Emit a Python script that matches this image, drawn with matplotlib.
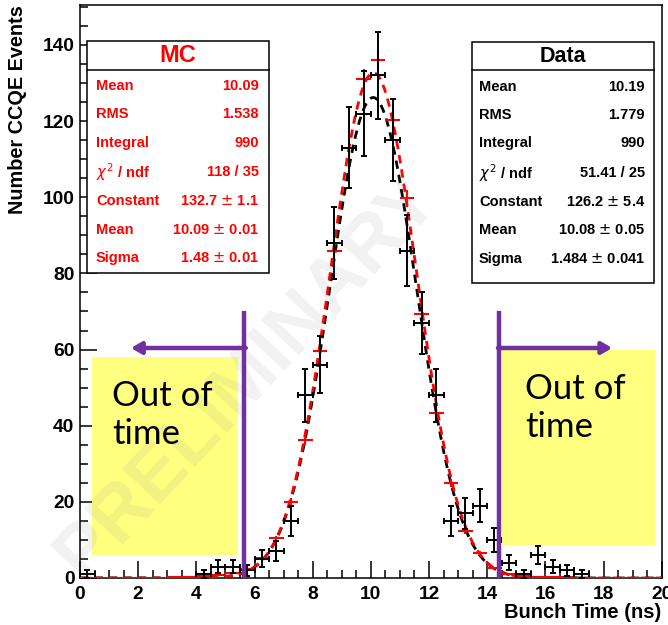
import numpy as np
import matplotlib
matplotlib.use("Agg")
import matplotlib.pyplot as plt
from matplotlib.patches import Rectangle
from matplotlib.ticker import MultipleLocator

plt.rcParams["font.family"] = ["Liberation Sans", "DejaVu Sans"]

# 40 bins of 0.5 ns from 0 to 20 ns
bin_edges = np.arange(0, 20.01, 0.5)
bin_centers = 0.5 * (bin_edges[:-1] + bin_edges[1:])

data_counts = [1, 0, 0, 0, 0, 0, 0, 0, 1, 3,
               3, 2, 5, 7, 15, 48, 56, 88, 113, 122,
               132, 115, 86, 67, 48, 15, 17, 19, 10, 4,
               1, 6, 3, 2, 1, 0, 0, 0, 0, 0]
mc_counts = [0.1, 0.1, 0.1, 0.1, 0.1, 0.1, 0.2, 0.3, 0.5, 0.8,
             1.2, 2.4, 5.2, 10.4, 20.0, 36.3, 59.7, 86.0, 113.0, 131.0,
             136.0, 120.3, 99.7, 69.3, 43.4, 25.0, 12.3, 6.5, 2.5, 1.0,
             0.5, 0.3, 0.2, 0.2, 0.1, 0.1, 0.1, 0.1, 0.1, 0.1]
mc_weight = 0.05  # MC event weight (normalised to data)

# gaussian fit results (constant, mean, sigma)
mc_fit = (132.7, 10.09, 1.48)
data_fit = (126.2, 10.08, 1.484)

mc_stats = [("Mean", "10.09"), ("RMS", "1.538"), ("Integral", "990"),
            (r"$\chi^2$ / ndf", "118 / 35"), ("Constant", r"132.7 $\pm$ 1.1"),
            ("Mean", r"10.09 $\pm$ 0.01"), ("Sigma", r"1.48 $\pm$ 0.01")]
data_stats = [("Mean", "10.19"), ("RMS", "1.779"), ("Integral", "990"),
              (r"$\chi^2$ / ndf", "51.41 / 25"), ("Constant", r"126.2 $\pm$ 5.4"),
              ("Mean", r"10.08 $\pm$ 0.05"), ("Sigma", r"1.484 $\pm$ 0.041")]

# in-time window edges (ns)
window = (5.65, 14.42)

W, H = 668, 625
fig = plt.figure(figsize=(W / 100, H / 100), dpi=100)
AX_L, AX_R, AX_T, AX_B = 80, 661.7, 5, 578
YMAX = 150.5
ax = fig.add_axes([AX_L / W, 1 - AX_B / H, (AX_R - AX_L) / W, (AX_B - AX_T) / H])


def afrac(px, py):
    return ((px - AX_L) / (AX_R - AX_L), (AX_B - py) / (AX_B - AX_T))


ax.set_xlim(0, 20)
ax.set_ylim(0, YMAX)

# watermark
cx, cy = afrac(248, 376)
ax.text(cx, cy, "PRELIMINARY", transform=ax.transAxes, rotation=47,
        fontsize=55, fontweight="bold", color="0.5", alpha=0.1,
        ha="center", va="center", zorder=6)

# fits
xf = np.linspace(0, 20, 800)
for (c, m, s), col in [(data_fit, "black"), (mc_fit, "red")]:
    ax.plot(xf, c * np.exp(-0.5 * ((xf - m) / s) ** 2), color=col, lw=2,
            ls=(0, (3, 2.2)), zorder=3)

mc = np.array(mc_counts)
ax.errorbar(bin_centers, mc, xerr=0.25, yerr=np.sqrt(mc * mc_weight),
            fmt="none", ecolor="red", elinewidth=1.5, zorder=4)

dc = np.array(data_counts, dtype=float)
nz = dc > 0
ax.errorbar(bin_centers[nz], dc[nz], xerr=0.25, yerr=np.sqrt(dc[nz]),
            fmt="none", ecolor="black", elinewidth=1.4, capsize=2.5,
            capthick=1.4, zorder=4)

ax.xaxis.set_major_locator(MultipleLocator(2))
ax.xaxis.set_minor_locator(MultipleLocator(0.5))
ax.yaxis.set_major_locator(MultipleLocator(20))
ax.yaxis.set_minor_locator(MultipleLocator(5))
ax.tick_params(which="both", direction="in", top=False, right=False)
ax.tick_params(which="major", length=12, width=1.1)
ax.tick_params(which="minor", length=6, width=1.1)
ax.tick_params(axis="x", pad=6, labelsize=13.8)
ax.tick_params(axis="y", pad=4, labelsize=13.8)
for lab in ax.get_xticklabels() + ax.get_yticklabels():
    lab.set_fontweight("bold")
for sp in ax.spines.values():
    sp.set_linewidth(1.1)

fig.text(18 / W, 1 - 5 / H, "Number CCQE Events", rotation=90, ha="center",
         va="top", fontsize=14.3, fontweight="bold")
fig.text(AX_R / W, 1 - 612 / H, "Bunch Time (ns)", ha="right", va="center",
         fontsize=14.5, fontweight="bold")


# stat boxes
def stat_box(x0, x1, y0, ysep, y1, title, title_size, rows, row_y, lx, rx, col):
    bx, by = afrac(x0, y1)
    bw, bh = afrac(x1, y0)
    ax.add_patch(Rectangle((bx, by), bw - bx, bh - by, transform=ax.transAxes,
                           facecolor="white", edgecolor="black", lw=1.1, zorder=7))
    sx0, sy = afrac(x0, ysep)
    sx1, _ = afrac(x1, ysep)
    ax.plot([sx0, sx1], [sy, sy], transform=ax.transAxes, color="black", lw=1.1, zorder=8)
    tx, ty = afrac(0.5 * (x0 + x1), 0.5 * (y0 + ysep))
    ax.text(tx, ty, title, transform=ax.transAxes, ha="center", va="center",
            fontsize=title_size, fontweight="bold", color=col, zorder=8)
    for (name, val), yy in zip(rows, row_y):
        a, b = afrac(lx, yy)
        ax.text(a, b, name, transform=ax.transAxes, ha="left", va="center",
                fontsize=10.5, fontweight="bold", color=col, zorder=8)
        a, b = afrac(rx, yy)
        ax.text(a, b, val, transform=ax.transAxes, ha="right", va="center",
                fontsize=10.5, fontweight="bold", color=col, zorder=8)


stat_box(87, 269, 41, 69.5, 273, "MC", 17, mc_stats,
         [86, 114, 143, 172, 201, 230, 258], 96, 259, "red")
stat_box(472, 654, 42, 70, 283, "Data", 15.5, data_stats,
         [87, 115, 143, 173, 202, 230, 259], 479, 645, "black")

# out-of-time annotations
purple = "#7030a0"
for x0, x1, y0, y1, tx, ty in [(92, 238, 357, 555, 112, 415),
                               (502, 655, 350, 545, 525, 408)]:
    a, b = afrac(x0, y1)
    c, d = afrac(x1, y0)
    ax.add_patch(Rectangle((a, b), c - a, d - b, transform=ax.transAxes,
                           facecolor="#ffff80", edgecolor="none", zorder=5))
    a, b = afrac(tx, ty)
    ax.text(a, b, "Out of\ntime", transform=ax.transAxes, ha="left",
            va="center", fontsize=25, family="Lato", linespacing=1.25, zorder=6)

_, ytop = afrac(0, 311)
for xw in window:
    ax.plot([xw, xw], [0, ytop * YMAX], color=purple, lw=3.2,
            solid_capstyle="butt", zorder=9)
_, yarr = afrac(0, 348)
for tip, start in [(1.75, window[0] + 0.05), (18.3, window[1] - 0.05)]:
    ax.annotate("", xy=(tip, yarr * YMAX), xytext=(start, yarr * YMAX),
                arrowprops=dict(arrowstyle="-|>,head_length=0.6,head_width=0.35",
                                color=purple, lw=3.2, shrinkA=0, shrinkB=0),
                zorder=9)

fig.savefig("out.png", dpi=100)
